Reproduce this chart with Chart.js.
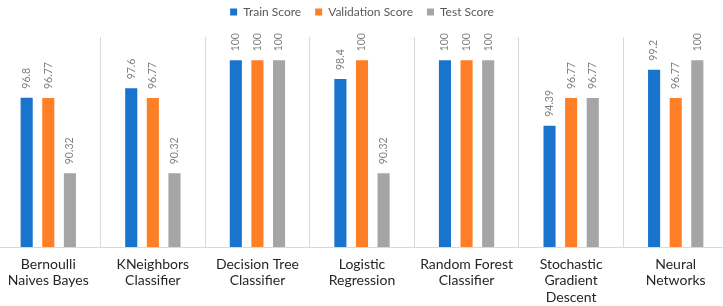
<!DOCTYPE html>
<html>
<head>
<meta charset="utf-8">
<script src="https://cdn.jsdelivr.net/npm/chart.js@4.4.1/dist/chart.umd.min.js"></script>
<style>
  html, body { margin: 0; padding: 0; background: #fff; overflow: hidden; }
  #wrap { position: relative; left: -4px; width: 732px; height: 306px; }
</style>
</head>
<body>
<div id="wrap"><canvas id="scoreChart"></canvas></div>
<script>
// categories (multi-line labels as in the original)
const models = [
  ['Bernoulli', 'Naives Bayes'],
  ['KNeighbors', 'Classifier'],
  ['Decision Tree', 'Classifier'],
  ['Logistic', 'Regression'],
  ['Random Forest', 'Classifier'],
  ['Stochastic', 'Gradient', 'Descent'],
  ['Neural', 'Networks']
];
const trainScore = [96.8, 97.6, 100, 98.4, 100, 94.39, 99.2];
const validationScore = [96.77, 96.77, 100, 100, 100, 96.77, 96.77];
const testScore = [90.32, 90.32, 100, 90.32, 100, 96.77, 100];

// rotated value labels above each bar
const barLabels = {
  id: 'barLabels',
  afterDatasetsDraw(chart) {
    const ctx = chart.ctx;
    ctx.save();
    ctx.font = '10.5px Lato, sans-serif';
    ctx.fillStyle = '#7f7f7f';
    ctx.textAlign = 'left';
    ctx.textBaseline = 'middle';
    chart.data.datasets.forEach((ds, i) => {
      chart.getDatasetMeta(i).data.forEach((bar, j) => {
        ctx.save();
        ctx.translate(bar.x, bar.y - 9);
        ctx.rotate(-Math.PI / 2);
        ctx.fillText(String(ds.data[j]), 0, 0);
        ctx.restore();
      });
    });
    ctx.restore();
  }
};

// more room between the legend and the bars
const legendSpace = {
  id: 'legendSpace',
  beforeInit(chart) {
    const fit = chart.legend.fit;
    chart.legend.fit = function () {
      fit.bind(chart.legend)();
      this.height += 9;
    };
  }
};

const ctx = document.getElementById('scoreChart').getContext('2d');
new Chart(ctx, {
  type: 'bar',
  data: {
    labels: models,
    datasets: [
      { label: 'Train Score', data: trainScore, backgroundColor: '#1874CD' },
      { label: 'Validation Score', data: validationScore, backgroundColor: '#FF7F27' },
      { label: 'Test Score', data: testScore, backgroundColor: '#A5A5A5' }
    ]
  },
  options: {
    responsive: true,
    maintainAspectRatio: false,
    animation: false,
    datasets: {
      bar: { categoryPercentage: 0.62, barPercentage: 0.56 }
    },
    layout: { padding: { top: -8, left: 0, right: 0, bottom: 0 } },
    scales: {
      x: {
        grid: { offset: true, color: '#d9d9d9', drawTicks: false },
        border: { color: '#d9d9d9' },
        afterFit: (scale) => { scale.height = 59; },
        ticks: {
          color: '#262626',
          font: { family: 'Lato', size: 14, lineHeight: 1.18 },
          padding: 9,
          maxRotation: 0,
          autoSkip: false
        }
      },
      y: {
        display: false,
        min: 84,
        max: 102
      }
    },
    plugins: {
      legend: {
        position: 'top',
        labels: {
          boxWidth: 7,
          boxHeight: 7,
          color: '#595959',
          font: { family: 'Lato', size: 12 },
          padding: 14
        }
      },
      tooltip: { enabled: false }
    }
  },
  plugins: [barLabels, legendSpace]
});
</script>
</body>
</html>
